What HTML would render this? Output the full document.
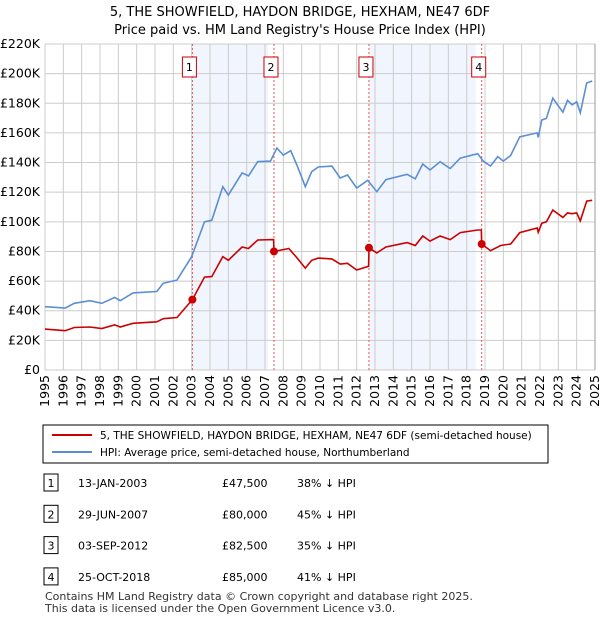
<!DOCTYPE html>
<html><head><meta charset="utf-8"><style>
body{margin:0;width:600px;height:620px;background:#fff;font-family:"Liberation Sans","DejaVu Sans",sans-serif;overflow:hidden}
svg text{font-family:"DejaVu Sans","Liberation Sans",sans-serif}
</style></head><body>
<svg id="chart" width="600" height="620" xmlns="http://www.w3.org/2000/svg">
<text x="300" y="16" text-anchor="middle" font-size="13">5, THE SHOWFIELD, HAYDON BRIDGE, HEXHAM, NE47 6DF</text>
<text x="300" y="34" text-anchor="middle" font-size="13">Price paid vs. HM Land Registry's House Price Index (HPI)</text>
<g id="plot"></g>
<g>
<rect x="43" y="425" width="505" height="38" fill="#fff" stroke="#000" stroke-width="1"/>
<line x1="52" y1="435" x2="92" y2="435" stroke="#cc0000" stroke-width="2"/>
<text x="100" y="439" font-size="10.5">5, THE SHOWFIELD, HAYDON BRIDGE, HEXHAM, NE47 6DF (semi-detached house)</text>
<line x1="52" y1="452" x2="92" y2="452" stroke="#5b8fd4" stroke-width="2"/>
<text x="100" y="456" font-size="10.5">HPI: Average price, semi-detached house, Northumberland</text>
</g>
<g id="table" font-size="11"></g>
<text x="45" y="600" font-size="11" fill="#333">Contains HM Land Registry data © Crown copyright and database right 2025.</text>
<text x="45" y="612" font-size="11" fill="#333">This data is licensed under the Open Government Licence v3.0.</text>
</svg>
<script>
const hpiYears=[1995.0,1996.1,1996.6,1997.45,1998.1,1998.8,1999.1,1999.8,2001.1,2001.45,2002.2,2003.0,2003.7,2004.1,2004.7,2005.0,2005.75,2006.1,2006.6,2007.3,2007.65,2008.0,2008.4,2008.75,2009.2,2009.55,2009.9,2010.65,2011.1,2011.5,2012.0,2012.6,2013.1,2013.6,2014.75,2015.2,2015.6,2016.0,2016.55,2017.1,2017.65,2018.6,2018.9,2019.3,2019.7,2020.0,2020.4,2020.9,2021.85,2021.9,2022.1,2022.35,2022.7,2023.25,2023.5,2023.75,2024.0,2024.2,2024.55,2024.85];
const hpiValues=[42700,41800,45000,46800,45000,49000,46800,52000,53000,58600,60700,76500,100000,101000,123700,118000,133000,131000,140600,141000,149800,145000,148000,138000,123700,133800,137000,137600,129600,131600,122800,128000,120400,128500,132000,129000,139000,135000,140600,136000,143000,146000,141000,137700,144000,141000,144800,157400,160000,157000,168700,169800,183500,174000,182000,179000,181000,173600,193700,195000];
const priceYears=[1995.0,1996.1,1996.6,1997.45,1998.1,1998.8,1999.1,1999.8,2001.1,2001.45,2002.2,2003.04,2003.7,2004.1,2004.7,2005.0,2005.75,2006.1,2006.6,2007.47,2007.49,2007.9,2008.3,2008.75,2009.2,2009.55,2009.9,2010.65,2011.1,2011.5,2012.0,2012.65,2012.67,2013.1,2013.6,2014.75,2015.2,2015.6,2016.0,2016.55,2017.1,2017.65,2018.6,2018.8,2018.82,2019.3,2019.85,2020.4,2020.9,2021.85,2021.9,2022.1,2022.35,2022.7,2023.25,2023.5,2023.75,2024.0,2024.2,2024.55,2024.85];
const priceValues=[27600,26500,28700,29000,28000,30500,29000,31500,32500,34600,35400,47500,62700,63000,76500,74000,83000,82000,87700,88000,80000,81000,82000,75600,68800,74000,75500,75000,71500,72000,67500,70000,82500,79000,83000,86000,84000,90400,87000,90400,88000,92700,94500,94500,85000,80500,84000,85000,92700,95800,93000,99000,100000,108000,103000,106000,105500,106000,100600,114000,114500];
const saleLabels=["1","2","3","4"];
const saleYears=[2003.04,2007.49,2012.67,2018.82];
const salePrices=[47500,80000,82500,85000];
const saleDates=["13-JAN-2003","29-JUN-2007","03-SEP-2012","25-OCT-2018"];
const salePriceText=["£47,500","£80,000","£82,500","£85,000"];
const saleHpiText=["38% ↓ HPI","45% ↓ HPI","35% ↓ HPI","41% ↓ HPI"];
const yTicks=[0,20000,40000,60000,80000,100000,120000,140000,160000,180000,200000,220000];
const yTickLabels=["£0","£20K","£40K","£60K","£80K","£100K","£120K","£140K","£160K","£180K","£200K","£220K"];
const xTicks=[1995,1996,1997,1998,1999,2000,2001,2002,2003,2004,2005,2006,2007,2008,2009,2010,2011,2012,2013,2014,2015,2016,2017,2018,2019,2020,2021,2022,2023,2024,2025];

const NS="http://www.w3.org/2000/svg";
const L=45,R=595,T=44,B=370;
const X=y=>L+(y-1995)/30*(R-L);
const Y=v=>B-v/220000*(B-T);
const plot=document.getElementById('plot');
function mk(tag,attrs,parent){const e=document.createElementNS(NS,tag);for(const k in attrs)e.setAttribute(k,attrs[k]);(parent||plot).appendChild(e);return e;}
for(let i=0;i<4;i+=2){
  const r=mk('rect',{x:X(saleYears[i]),y:T,width:X(saleYears[i+1])-X(saleYears[i])-6,height:B-T,fill:'#eef3fc',opacity:0.8});
  
  
}
yTicks.forEach((v,i)=>{
  const l=mk('line',{x1:L,x2:R,y1:Y(v),y2:Y(v),stroke:'#cccccc','stroke-width':1});
  
  
  const t=mk('text',{x:L-5,y:Y(v)+4,'text-anchor':'end','font-size':12.5});
  t.textContent=yTickLabels[i];
  
  
});
xTicks.forEach(yr=>{
  const l=mk('line',{x1:X(yr),x2:X(yr),y1:T,y2:B,stroke:'#cccccc','stroke-width':1});
  
  
  const t=mk('text',{x:0,y:0,'text-anchor':'end','font-size':12.5,transform:`translate(${X(yr)+4},${B+5}) rotate(-90)`});
  t.textContent=yr;
  
  
});
mk('line',{x1:R,x2:R,y1:T,y2:B,stroke:'#999','stroke-width':1});
saleYears.forEach((yr,i)=>{
  const l=mk('line',{x1:X(yr),x2:X(yr),y1:T,y2:B,stroke:'#ee5555','stroke-width':1,'stroke-dasharray':'2,2'});
  
  
});
const pts=(xs,vs)=>xs.map((x,i)=>X(x).toFixed(1)+','+Y(vs[i]).toFixed(1)).join(' ');
const h=mk('polyline',{points:pts(hpiYears,hpiValues),fill:'none',stroke:'#5b8fd4','stroke-width':1.6});


const p=mk('polyline',{points:pts(priceYears,priceValues),fill:'none',stroke:'#cc0000','stroke-width':1.6});


saleYears.forEach((yr,i)=>{
  const c=mk('circle',{cx:X(yr),cy:Y(salePrices[i]),r:4,fill:'#cc0000'});
  
  
  const bx=X(yr)-10;
  const r=mk('rect',{x:bx,y:57,width:14,height:20,fill:'#fff',stroke:'#cc0000','stroke-width':1});
  
  
  const t=mk('text',{x:bx+7,y:71,'text-anchor':'middle','font-size':11});
  t.textContent=saleLabels[i];
  
  
});
const tb=document.getElementById('table');
saleLabels.forEach((s,i)=>{
  const y=483+i*31.3;
  const r=mk('rect',{x:44,y:y-9,width:14,height:17,fill:'#fff',stroke:'#000','stroke-width':1},tb);
  
  
  const vals=[[51,s,'middle'],[78,saleDates[i],'start'],[222,salePriceText[i],'start'],[297,saleHpiText[i],'start']];
  vals.forEach(v=>{
    const t=mk('text',{x:v[0],y:y+4,'text-anchor':v[2]},tb);
    t.textContent=v[1];
    
    
  });
});
</script>
</body></html>
